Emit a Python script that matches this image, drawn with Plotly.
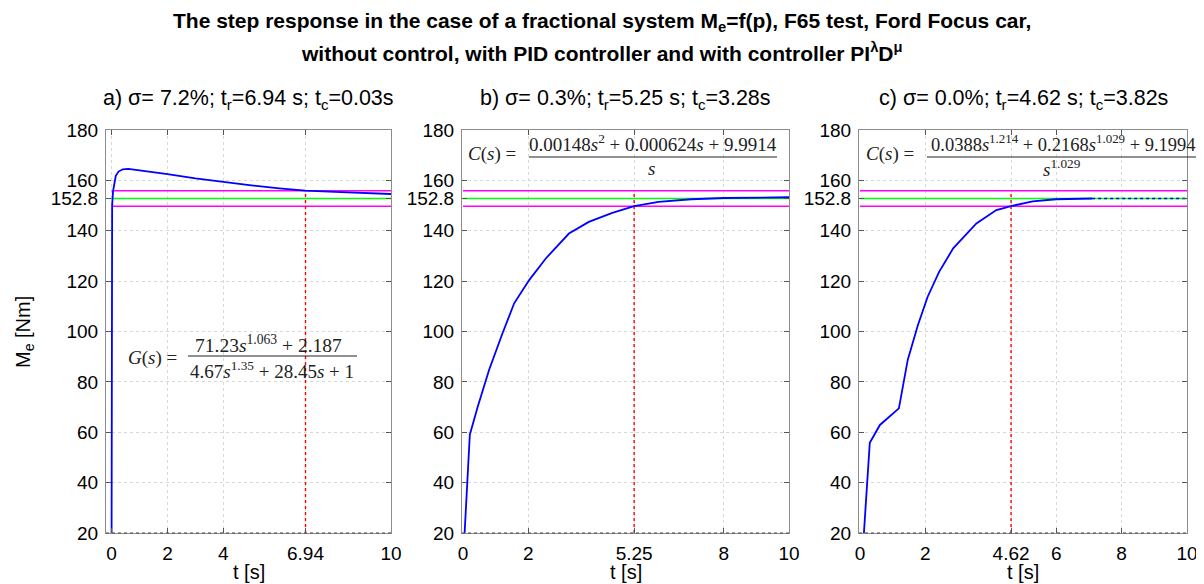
import plotly.graph_objects as go

W, H = 1204, 584
OFF = 8  # page body margin: figure pixel = window pixel - OFF

# ---------------- data ----------------
setpoint = 152.8
band = 0.02
y_ticks = [20, 40, 60, 80, 100, 120, 140, 152.8, 160, 180]
y_tick_text = ["20", "40", "60", "80", "100", "120", "140", "152.8", "160", "180"]

# a) without control
t_a = [0, 0, 0.02, 0.05, 0.1, 0.15, 0.25, 0.4, 0.6, 0.9, 1.5, 2, 3, 4, 5, 6, 6.94, 8, 9, 10]
me_a = [20, 129, 150, 155.5, 159.5, 161.8, 163.5, 164.4, 164.6, 164.2, 163.3, 162.5, 160.8, 159.3, 158.0, 156.8, 155.9, 155.4, 155.0, 154.6]

# b) PID controller
t_b = [0.05, 0.21, 0.45, 0.8, 1.21, 1.57, 2.03, 2.54, 3.25, 3.86, 4.58, 5.25, 6, 7, 8, 9, 10]
me_b = [20, 59, 70, 84.7, 99.2, 111.2, 120.4, 129, 138.9, 143.5, 147.1, 149.8, 151.5, 152.5, 153.0, 153.2, 153.3]

# c) PI^lambda D^mu controller
t_c = [0.12, 0.30, 0.61, 1.19, 1.46, 1.77, 2.07, 2.42, 2.85, 3.56, 4.17, 4.62, 5.28, 6.0, 7.1]
me_c = [20, 55.8, 62.9, 69.5, 88.7, 102.5, 113.8, 123.7, 133, 142.9, 148.2, 149.8, 151.7, 152.5, 152.8]
t_c_tail = [7.1, 10]

t_r = [6.94, 5.25, 4.62]
x_ticks_a = [0, 2, 4, 6.94, 10]
x_ticks_b = [0, 2, 5.25, 8, 10]
x_ticks_c = [0, 2, 4.62, 6, 8, 10]
x_ranges = [[-0.2, 10], [-0.03, 10], [-0.03, 10]]

panel_titles = [
    "a) σ= 7.2%; t<sub>r</sub>=6.94 s; t<sub>c</sub>=0.03s",
    "b) σ= 0.3%; t<sub>r</sub>=5.25 s; t<sub>c</sub>=3.28s",
    "c) σ= 0.0%; t<sub>r</sub>=4.62 s; t<sub>c</sub>=3.82s",
]
title_lines = [
    "The step response in the case of a fractional system M<sub>e</sub>=f(p), F65 test, Ford Focus car,",
    "without control, with PID controller and with controller PI<sup>λ</sup>D<sup>μ</sup>",
]

# ---------------- layout helpers ----------------
def px(x):
    return (x - OFF) / W

def py(y):
    return 1 - (y - OFF) / H

x_dom_px = [(106, 391), (462, 789), (859, 1187)]
y_dom_px = (130, 533)

SANS = "Liberation Sans, Arial, sans-serif"
SERIF = "Liberation Serif, DejaVu Serif, serif"

fig = go.Figure()

upper = setpoint * (1 + band)
lower = setpoint * (1 - band)

series = [(t_a, me_a), (t_b, me_b), (t_c, me_c)]
xtick_sets = [x_ticks_a, x_ticks_b, x_ticks_c]

for i in range(3):
    xa = "x" if i == 0 else f"x{i+1}"
    ya = "y" if i == 0 else f"y{i+1}"
    t, v = series[i]
    x0, x1 = 0, 10
    for lvl in (upper, lower):
        fig.add_trace(go.Scatter(x=[x0, x1], y=[lvl, lvl], mode="lines",
                                 line=dict(color="#ff00ff", width=1.6),
                                 xaxis=xa, yaxis=ya, showlegend=False, hoverinfo="skip"))
    fig.add_trace(go.Scatter(x=[x0, x1], y=[setpoint, setpoint], mode="lines",
                             line=dict(color="#00ff00", width=1.6),
                             xaxis=xa, yaxis=ya, showlegend=False, hoverinfo="skip"))
    fig.add_trace(go.Scatter(x=[t_r[i], t_r[i]], y=[20, upper], mode="lines",
                             line=dict(color="#ff0000", width=1.4, dash="dot"),
                             xaxis=xa, yaxis=ya, showlegend=False, hoverinfo="skip"))
    fig.add_trace(go.Scatter(x=t, y=v, mode="lines",
                             line=dict(color="#0000ff", width=1.8),
                             xaxis=xa, yaxis=ya, showlegend=False))
    if i == 2:
        fig.add_trace(go.Scatter(x=t_c_tail, y=[setpoint, setpoint], mode="lines",
                                 line=dict(color="#0000ff", width=1.6, dash="dot"),
                                 xaxis=xa, yaxis=ya, showlegend=False))

    axis_common = dict(showline=True, linecolor="#8c8c8c", linewidth=1, mirror="ticks",
                       ticks="inside", ticklen=5, tickcolor="#555555",
                       showgrid=True, gridcolor="#d3dbd3", griddash="3px,3px", gridwidth=1,
                       zeroline=False, tickfont=dict(family=SANS, size=19, color="black"))
    xkey = "xaxis" if i == 0 else f"xaxis{i+1}"
    ykey = "yaxis" if i == 0 else f"yaxis{i+1}"
    fig.update_layout(**{
        xkey: dict(axis_common, domain=[px(x_dom_px[i][0]), px(x_dom_px[i][1])],
                   range=x_ranges[i], tickmode="array", tickvals=xtick_sets[i],
                   ticktext=[("%g" % v_) for v_ in xtick_sets[i]],
                   anchor=ya, ticklabelstandoff=3),
        ykey: dict(axis_common, domain=[py(y_dom_px[1]), py(y_dom_px[0])],
                   range=[20, 180], tickmode="array", tickvals=y_ticks,
                   ticktext=y_tick_text, anchor=xa, ticklabelstandoff=3),
    })
    # dotted bottom frame line
    fig.add_shape(type="line", xref=f"{xa} domain", yref=f"{ya} domain",
                  x0=0, x1=1, y0=0, y1=0, layer="above",
                  line=dict(color="#444444", width=1, dash="dot"))

annotations = []
# main title
for txt, yy in zip(title_lines, [22, 52]):
    annotations.append(dict(text="<b>" + txt + "</b>", x=px(602), y=py(yy), xref="paper", yref="paper",
                            xanchor="center", yanchor="middle", showarrow=False,
                            font=dict(family=SANS, size=21, color="black")))
# panel titles and axis labels
for i in range(3):
    cx = (x_dom_px[i][0] + x_dom_px[i][1]) / 2
    annotations.append(dict(text=panel_titles[i], x=px(cx), y=py(99), xref="paper", yref="paper",
                            xanchor="center", yanchor="middle", showarrow=False,
                            font=dict(family=SANS, size=21.5, color="black")))
    annotations.append(dict(text="t [s]", x=px(cx), y=py(572), xref="paper", yref="paper",
                            xanchor="center", yanchor="middle", showarrow=False,
                            font=dict(family=SANS, size=20, color="black")))
annotations.append(dict(text="M<sub>e</sub> [Nm]", x=px(24), y=py(332), xref="paper", yref="paper",
                        xanchor="center", yanchor="middle", showarrow=False, textangle=-90,
                        font=dict(family=SANS, size=20, color="black")))

# transfer-function formulas
fcol = "#222222"
formulas = [
    # (lhs, lhs_x, lhs_y, num, num_x, num_y, den, den_x, den_y, bar_x0, bar_x1, bar_y, num_size)
    ("<i>G</i>(<i>s</i>) =", 152, 358,
     "71.23<i>s</i><sup>1.063</sup> + 2.187", 268, 344,
     "4.67<i>s</i><sup>1.35</sup> + 28.45<i>s</i> + 1", 272, 370,
     188, 357, 356, 19.5),
    ("<i>C</i>(<i>s</i>) =", 492, 154,
     "0.00148<i>s</i><sup>2</sup> + 0.000624<i>s</i> + 9.9914", 653, 143,
     "<i>s</i>", 652, 168,
     529, 777, 157, 19),
    ("<i>C</i>(<i>s</i>) =", 890, 154,
     "0.0388<i>s</i><sup>1.214</sup> + 0.2168<i>s</i><sup>1.029</sup> + 9.1994", 1063, 143,
     "<i>s</i><sup>1.029</sup>", 1062, 168,
     927, 1199, 157, 18.5),
]
for (lhs, lx, ly, num, nx, ny, den, dx, dy, bx0, bx1, by, nsize) in formulas:
    for txt, xx, yy, fs in ((lhs, lx, ly, 19), (num, nx, ny, nsize), (den, dx, dy, 19)):
        annotations.append(dict(text=txt, x=px(xx), y=py(yy), xref="paper", yref="paper",
                                xanchor="center", yanchor="middle", showarrow=False,
                                font=dict(family=SERIF, size=fs, color=fcol)))
    fig.add_shape(type="line", xref="paper", yref="paper", x0=px(bx0), x1=px(bx1),
                  y0=py(by), y1=py(by), line=dict(color=fcol, width=1))

fig.update_layout(width=W, height=H,
                  margin=dict(l=0, r=0, t=0, b=0, pad=0, autoexpand=False),
                  paper_bgcolor="white", plot_bgcolor="white",
                  annotations=annotations, showlegend=False)

fig.write_html("out.html")
